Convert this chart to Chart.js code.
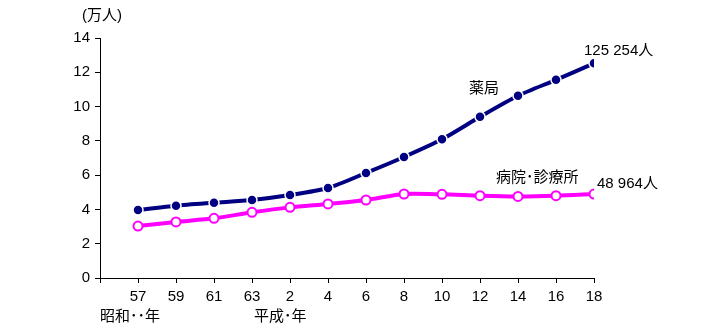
<!DOCTYPE html>
<html>
<head>
<meta charset="utf-8">
<script src="https://cdn.jsdelivr.net/npm/chart.js@4.4.1/dist/chart.umd.min.js"></script>
<style>
  html, body { margin: 0; padding: 0; background: #fff; }
  #wrap { width: 722px; height: 334px; }
</style>
</head>
<body>
<div id="wrap"><canvas id="pharmChart" width="722" height="334"></canvas></div>
<script>
// year labels (Showa 57..63, Heisei 2..18), two-year steps
const yearLabels = ['57', '59', '61', '63', '2', '4', '6', '8', '10', '12', '14', '16', '18'];
// pharmacists, ten-thousands of people
const pharmacy = [3.97, 4.22, 4.39, 4.55, 4.84, 5.25, 6.13, 7.06, 8.09, 9.40, 10.63, 11.56, 12.5254];
const hospital = [3.03, 3.27, 3.48, 3.83, 4.12, 4.32, 4.55, 4.90, 4.88, 4.80, 4.76, 4.80, 4.8964];
const lastValues = ['125 254人', '48 964人'];
const seriesNames = ['薬局', '病院･診療所'];

const FONT = '"Liberation Sans", "Noto Sans CJK JP", sans-serif';

function toPoints(values) {
  return values.map((v, i) => ({ x: i + 1, y: v }));
}

// text placed next to the lines and under the axis
const labelPlugin = {
  id: 'labels',
  afterDatasetsDraw(chart) {
    const ctx = chart.ctx;
    const xs = chart.scales.x, ys = chart.scales.y;
    const n = yearLabels.length;
    ctx.save();
    ctx.fillStyle = '#000';
    ctx.font = '15px ' + FONT;
    ctx.textBaseline = 'middle';
    ctx.textAlign = 'left';

    // unit label above y axis
    ctx.fillText('(万人)', xs.left - 18, ys.top - 22);

    // end values
    ctx.fillText(lastValues[0], xs.getPixelForValue(n) - 10, ys.getPixelForValue(pharmacy[n - 1]) - 12);
    ctx.fillText(lastValues[1], xs.getPixelForValue(n) + 3, ys.getPixelForValue(hospital[n - 1]) - 10);

    // series names
    ctx.fillText(seriesNames[0], xs.getPixelForValue(10) - 11, ys.getPixelForValue(pharmacy[9]) - 28);
    ctx.fillText(seriesNames[1], xs.getPixelForValue(10) + 16, ys.getPixelForValue(hospital[9]) - 18);

    // era labels under the tick labels
    ctx.fillText('昭和･･年', xs.getPixelForValue(0), xs.bottom - 17);
    ctx.fillText('平成･年', xs.getPixelForValue(5) - 36, xs.bottom - 17);
    ctx.restore();
  }
};

const ctx = document.getElementById('pharmChart').getContext('2d');
const pharmChart = new Chart(ctx, {
  type: 'line',
  data: {
    datasets: [{
      label: seriesNames[0],
      data: toPoints(pharmacy),
      borderColor: '#000080',
      borderWidth: 4,
      tension: 0.25,
      pointRadius: 5,
      pointBackgroundColor: '#000080',
      pointBorderColor: '#ffffff',
      pointBorderWidth: 1.5
    }, {
      label: seriesNames[1],
      data: toPoints(hospital),
      borderColor: '#ff00ff',
      borderWidth: 4,
      tension: 0.25,
      pointRadius: 4.5,
      pointBackgroundColor: '#ffffff',
      pointBorderColor: '#ff00ff',
      pointBorderWidth: 2
    }]
  },
  plugins: [labelPlugin],
  options: {
    responsive: false,
    animation: false,
    layout: { padding: { left: 0, right: 128, top: 38, bottom: 0 } },
    plugins: {
      legend: { display: false },
      tooltip: { enabled: false }
    },
    scales: {
      x: {
        type: 'linear',
        min: 0,
        max: yearLabels.length,
        afterFit: s => { s.height = 56; },
        afterBuildTicks: s => {
          s.ticks = Array.from({ length: yearLabels.length + 1 }, (_, i) => ({ value: i }));
        },
        ticks: {
          autoSkip: false,
          maxRotation: 0,
          color: '#000',
          padding: 5,
          font: { size: 15, family: FONT },
          callback: v => (v >= 1 ? yearLabels[v - 1] : '')
        },
        grid: { drawOnChartArea: false, color: '#000', tickLength: 5 },
        border: { color: '#000', width: 1 }
      },
      y: {
        min: 0,
        max: 14,
        afterFit: s => { s.width = 100; },
        ticks: {
          stepSize: 2,
          color: '#000',
          padding: 5,
          font: { size: 15, family: FONT }
        },
        grid: { drawOnChartArea: false, color: '#000', tickLength: 5 },
        border: { color: '#000', width: 1 }
      }
    }
  }
});
</script>
</body>
</html>
